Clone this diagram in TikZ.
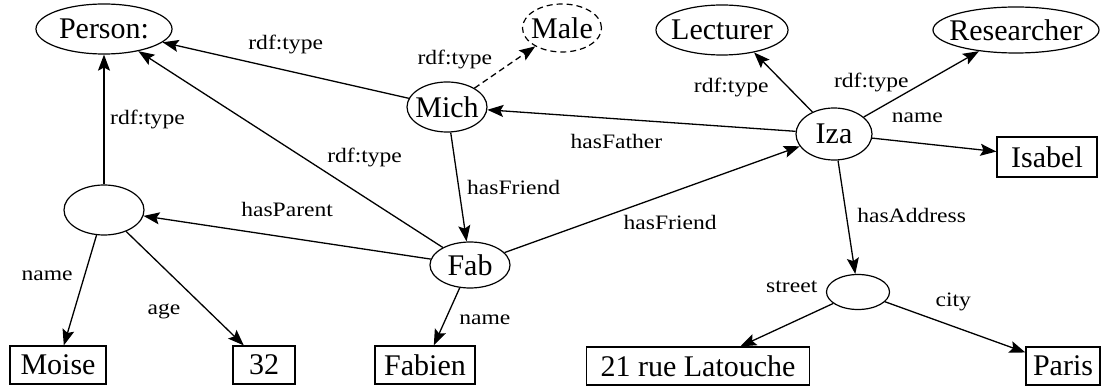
\documentclass[tikz,border=0pt]{standalone}
\usepackage{fontspec}
\setmainfont{Liberation Serif}
\newfontfamily\lblfont{Liberation Serif}[FakeStretch=1.15]
\usetikzlibrary{arrows.meta,shapes.geometric}
\tikzset{
  res/.style={ellipse, draw, black, line width=1.2pt, inner xsep=-10pt, inner ysep=0pt,
    font=\fontsize{30}{30}\selectfont},
  lit/.style={rectangle, draw, black, line width=1.2pt, inner sep=0pt, minimum height=38pt,
    font=\fontsize{30}{30}\selectfont},
  lbl/.style={inner sep=1pt, font=\lblfont\fontsize{20.5}{20.5}\selectfont},
  arr/.style={line width=1.3pt, -{Stealth[length=16pt,width=12pt,inset=3pt]}},
  dash line/.style={dash pattern=on 6pt off 4pt},
}
\begin{document}
\begin{tikzpicture}[x=1pt, y=-1pt]
       \useasboundingbox (0, 0) rectangle (1102, 387);
       % resources
       \draw (104, 29) node[res, minimum width=136pt, minimum height=50pt](person){Person:}
       (562, 28) node[res, dash line, minimum width=79pt, minimum height=48pt](male){Male}
       (722, 30) node[res, minimum width=132pt, minimum height=50pt](lecturer){Lecturer}
       (1016, 30) node[res, minimum width=166pt, minimum height=46pt](researcher){Researcher}
       (447, 107) node[res, minimum width=80pt, minimum height=50pt](mich){Mich}
       (834, 134) node[res, minimum width=76pt, minimum height=52pt](iza){Iza}
       (104, 210) node[res, minimum width=80pt, minimum height=50pt](parent){}
       (470, 265) node[res, minimum width=80pt, minimum height=46pt](fab){Fab}
       (858, 292) node[res, minimum width=63pt, minimum height=35pt](address){};

       % literals
       \draw (1047, 157) node[lit, minimum width=100pt, minimum height=40pt](isabel){Isabel}
       (58, 365) node[lit, minimum width=96pt](moise){Moise}
       (264, 365) node[lit, minimum width=62pt](age){32}
       (425, 365) node[lit, minimum width=100pt](fabien){Fabien}
       (698, 366) node[lit, minimum width=223pt](street){21 rue Latouche}
       (1063, 366) node[lit, minimum width=74pt](paris){Paris};

       \draw[arr] (mich) -- (person) node[lbl, midway, yshift=26pt]{rdf:type};
       \draw[arr, dash line] (mich) -- (male) node[lbl, midway, xshift=-50pt, yshift=8pt]{rdf:type};
       \draw[arr] (iza) -- (mich) node[lbl, midway, xshift=-25pt, yshift=-21pt]{hasFather};
       \draw[arr] (iza) -- (lecturer.325) node[lbl, midway, xshift=-52pt, yshift=-5pt]{rdf:type};
       \draw[arr] (iza) -- (researcher) node[lbl, midway, xshift=-50pt, yshift=2pt]{rdf:type};
       \draw[arr] (iza) -- (isabel) node[lbl, midway, xshift=-17pt, yshift=27pt]{name};
       \draw[arr] (iza) -- (address) node[lbl, midway, xshift=65pt, yshift=2pt]{hasAddress};
       \draw[arr] (address) -- (street) node[lbl, midway, xshift=5pt, yshift=38pt]{street};
       \draw[arr] (address) -- (paris) node[lbl, midway, xshift=-2pt, yshift=25pt]{city};
       \draw[arr] (parent) -- (person) node[lbl, midway, right=4.5pt]{rdf:type};
       \draw[arr] (parent) -- (moise) node[lbl, midway, xshift=-33pt, yshift=15pt]{name};
       \draw[arr] (parent) -- (age) node[lbl, midway, xshift=-21pt, yshift=-23.5pt]{age};
       \draw[arr] (fab) -- (parent) node[lbl, midway, yshift=28.5pt]{hasParent};
       \draw[arr] (fab) -- (person) node[lbl, midway, xshift=74pt, yshift=-8pt]{rdf:type};
       \draw[arr] (mich) -- (fab) node[lbl, midway, xshift=55pt, yshift=-1pt]{hasFriend};
       \draw[arr] (fab) -- (iza) node[lbl, midway, xshift=18pt, yshift=-22.6pt]{hasFriend};
       \draw[arr] (fab) -- (fabien) node[lbl, midway, xshift=38pt, yshift=-3pt]{name};
    \end{tikzpicture}
\end{document}
